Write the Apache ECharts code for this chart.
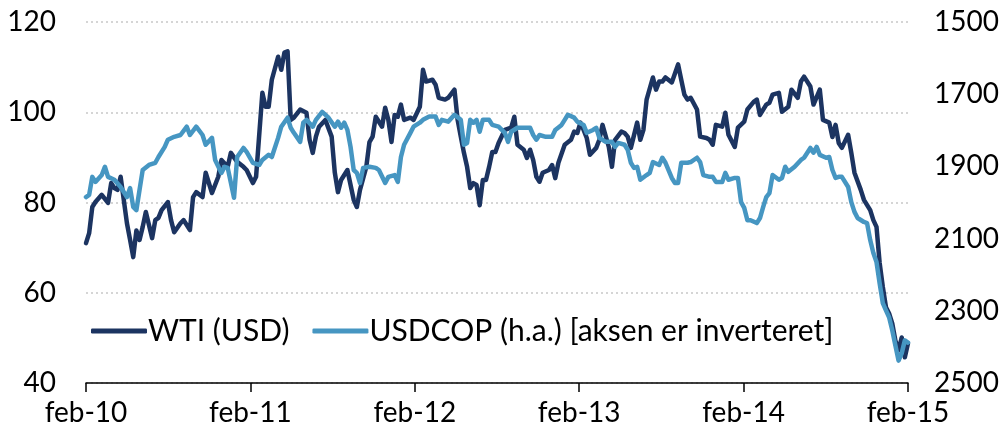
<!DOCTYPE html>
<html>
<head>
<meta charset="utf-8">
<script src="https://cdn.jsdelivr.net/npm/echarts@6/dist/echarts.min.js"></script>
<style>
  html, body { margin: 0; padding: 0; background: #fff; }
  #chart { width: 1007px; height: 436px; }
</style>
</head>
<body>
<div id="chart"></div>
<script>
// x = uger siden feb-10 (52,2 uger pr. år)
const yearLabels = ['feb-10', 'feb-11', 'feb-12', 'feb-13', 'feb-14', 'feb-15'];
const weeksPerYear = 52.2;

// WTI, USD pr. tønde [uge, værdi]
const wti = [
  [0,71],[1,73.2],[2,79],[3,80.1],[5,81.7],[7,79.9],[8,84.3],[9,83.2],[10,82.8],[11,85.7],
  [13,75.4],[14,71.7],[15,67.9],[16,73.8],[17,71.7],[18,74.6],[19,77.9],[21,72.1],[22,76.1],[23,76.6],
  [24,78.3],[26,80.1],[27,76.1],[28,73.4],[30,75.4],[31,76.1],[33,73.9],[34,81.2],[35,82.3],[37,81.2],
  [38,86.6],[40,82.1],[42,85.7],[43,89.4],[45,87.9],[46,91],[48,89],[50,87.9],[51,87.2],[53,84.3],
  [54,85.7],[56,104.3],[57,101.2],[58,101.2],[59,107.2],[61,112.3],[62,109.4],[63,113.2],[64,113.5],[65,98.3],
  [66,98.8],[68,100.6],[70,99.9],[71,93.9],[72,91],[73,94.6],[74,96.8],[76,98.3],[78,94.6],[79,86.6],
  [80,82.3],[81,85],[83,87.2],[85,80.6],[86,79],[87,82.8],[89,87.9],[90,93.4],[91,94.6],[92,99],
  [94,96.8],[95,101],[96,98.3],[97,93.4],[98,99.4],[99,99],[100,101.7],[101,98.3],[103,98.8],[104,98.3],
  [106,101.2],[107,109.4],[108,106.8],[110,107.2],[111,106.1],[112,103.2],[114,102.8],[115,103.2],[117,105],[118,98.3],
  [119,94.6],[120,91],[121,87.9],[122,83.2],[123,84.3],[124,83.9],[125,79.4],[126,85],[127,85],[128,87.9],
  [129,91.2],[130,91.2],[131,93.2],[133,96.1],[135,96.6],[136,99],[137,92.8],[139,91.7],[140,89.9],[141,91.7],
  [142,89.4],[143,85.7],[144,84.6],[145,86.6],[147,87.2],[148,88.3],[149,85.4],[150,88.8],[152,92.8],[154,93.9],
  [155,95.7],[156,95.4],[157,97.7],[158,96.1],[159,94.3],[160,90.6],[162,92.1],[163,93.9],[164,97.2],[166,92.3],
  [167,87.9],[168,93.9],[170,95.7],[171,95.4],[172,94.6],[173,92.1],[175,97.7],[176,93.9],[177,96.1],[178,102.8],
  [180,107.7],[181,105],[182,106.8],[183,106.8],[184,107.7],[186,106.6],[188,110.6],[189,107.2],[190,103.9],[191,102.8],
  [192,103.2],[194,100.6],[195,94.6],[197,94.3],[198,93.9],[199,92.8],[200,97.2],[202,96.8],[203,99.9],[204,95],
  [206,92.3],[207,96.6],[209,97.9],[210,100.6],[212,102.3],[213,102.8],[214,99.4],[216,101.7],[217,102.1],[218,103.9],
  [220,104.3],[221,100.1],[223,101.2],[224,105],[226,103.2],[227,106.8],[228,107.9],[230,105.7],[231,101.7],[233,105],
  [234,98.3],[236,97.7],[237,94.5],[238,97.2],[239,93.2],[240,92.1],[242,95],[243,91],[244,86.6],[246,82.8],
  [247,80.6],[249,78.3],[250,76.1],[251,74.6],[252,66.6],[253,61.3],[254,56.8],[255,55.4],[256,53.2],[257,49.4],
  [258,47.2],[259,50.1],[260,45.7],[261,48.8]
];

// USDCOP, højre akse (inverteret) [uge, værdi]
const usdcop = [
  [0,1985],[1,1979],[2,1929],[3,1943],[5,1924],[6,1901],[7,1929],[9,1937],[11,1957],[13,1985],
  [14,1960],[15,2012],[16,2021],[17,1965],[18,1910],[20,1896],[22,1890],[23,1874],[25,1846],[26,1826],
  [28,1818],[30,1813],[32,1790],[33,1813],[35,1790],[37,1813],[38,1840],[40,1821],[41,1882],[43,1918],
  [44,1901],[45,1904],[47,1987],[48,1874],[50,1849],[51,1860],[53,1890],[55,1896],[56,1882],[58,1868],
  [59,1874],[61,1821],[62,1790],[64,1765],[65,1793],[66,1807],[68,1832],[69,1779],[70,1771],[72,1790],
  [73,1771],[75,1749],[77,1765],[79,1790],[80,1776],[81,1793],[82,1779],[83,1799],[84,1846],[85,1910],
  [86,1918],[87,1946],[88,1904],[90,1901],[92,1904],[93,1910],[95,1946],[96,1929],[98,1924],[99,1943],
  [100,1874],[101,1840],[103,1807],[104,1790],[106,1779],[107,1771],[109,1762],[111,1762],[112,1785],[113,1771],
  [115,1776],[117,1757],[119,1771],[120,1840],[121,1835],[122,1771],[123,1779],[124,1771],[125,1804],[126,1771],
  [128,1771],[129,1785],[131,1790],[133,1807],[134,1832],[135,1804],[137,1793],[139,1793],[141,1793],[142,1813],
  [143,1826],[144,1813],[146,1818],[148,1818],[149,1799],[151,1785],[152,1771],[153,1757],[155,1765],[156,1776],
  [158,1785],[159,1807],[161,1799],[162,1793],[163,1821],[165,1832],[167,1832],[168,1846],[169,1835],[171,1840],
  [172,1854],[173,1890],[174,1904],[175,1901],[176,1937],[178,1924],[179,1918],[180,1888],[182,1896],[183,1876],
  [184,1890],[186,1932],[187,1946],[188,1946],[189,1890],[191,1890],[192,1888],[194,1876],[195,1888],[196,1924],
  [198,1929],[199,1929],[200,1943],[202,1943],[203,1918],[204,1937],[206,1932],[207,1932],[208,1999],[209,2015],
  [210,2049],[211,2049],[213,2057],[214,2043],[215,2013],[216,1985],[217,1974],[218,1924],[220,1937],[221,1932],
  [222,1901],[223,1915],[225,1901],[227,1882],[228,1876],[230,1849],[231,1862],[232,1846],[233,1868],[235,1876],
  [236,1874],[237,1910],[238,1932],[239,1929],[240,1929],[242,1957],[243,1999],[244,2026],[245,2043],[247,2054],
  [248,2057],[249,2104],[250,2140],[251,2165],[252,2224],[253,2279],[254,2299],[255,2318],[256,2354],[257,2396],
  [258,2438],[259,2418],[260,2382],[261,2388]
];

const chart = echarts.init(document.getElementById('chart'));
const font = 'Lato, "Open Sans", sans-serif';

chart.setOption({
  animation: false,
  textStyle: { fontFamily: font },
  grid: { left: 86, right: 99, top: 22, bottom: 53 },
  legend: {
    left: 86,
    top: 311,
    icon: 'roundRect',
    itemWidth: 56,
    itemHeight: 5,
    itemGap: 23,
    textStyle: { fontSize: 30, color: '#000', fontFamily: font, padding: [0, 0, 0, -4] },
    data: ['WTI (USD)', 'USDCOP (h.a.) [aksen er inverteret]']
  },
  xAxis: {
    type: 'value',
    min: 0,
    max: 261,
    interval: weeksPerYear,
    axisLine: { lineStyle: { color: '#000', width: 1.5 } },
    axisTick: { length: 9, lineStyle: { color: '#000', width: 1.5 } },
    splitLine: { show: false },
    axisLabel: {
      fontSize: 28,
      color: '#000',
      margin: 16,
      formatter: v => yearLabels[Math.round(v / weeksPerYear)]
    }
  },
  yAxis: [
    {
      type: 'value',
      min: 40,
      max: 120,
      interval: 20,
      axisLine: { show: false },
      axisTick: { show: false },
      axisLabel: { fontSize: 28, color: '#000', margin: 30 },
      splitLine: { lineStyle: { color: '#c8c8c8', type: [2, 3], width: 1.5 } }
    },
    {
      type: 'value',
      min: 1500,
      max: 2500,
      interval: 200,
      inverse: true,
      position: 'right',
      axisLine: { show: false },
      axisTick: { show: false },
      axisLabel: { fontSize: 28, color: '#000', margin: 26, formatter: v => String(v) },
      splitLine: { show: false }
    }
  ],
  series: [
    {
      name: 'WTI (USD)',
      type: 'line',
      yAxisIndex: 0,
      data: wti,
      symbol: 'none',
      itemStyle: { color: '#1c3461' },
      lineStyle: { color: '#1c3461', width: 4.5, join: 'round', cap: 'round' }
    },
    {
      name: 'USDCOP (h.a.) [aksen er inverteret]',
      type: 'line',
      yAxisIndex: 1,
      data: usdcop,
      symbol: 'none',
      itemStyle: { color: '#4696c2' },
      lineStyle: { color: '#4696c2', width: 4.5, join: 'round', cap: 'round' }
    }
  ]
});
</script>
</body>
</html>
